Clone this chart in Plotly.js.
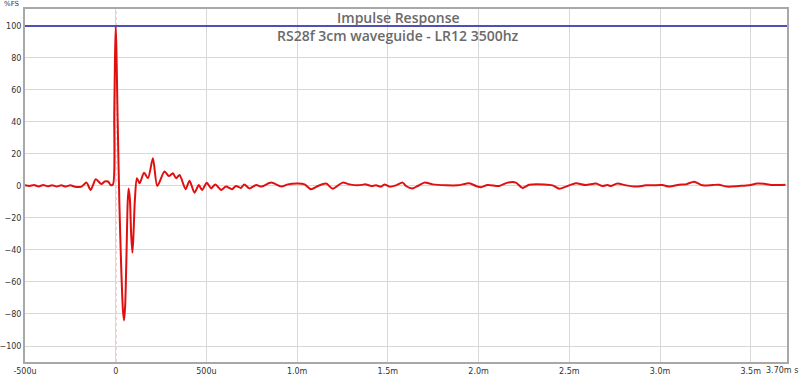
<!DOCTYPE html>
<html>
<head>
<meta charset="utf-8">
<script src="https://cdn.plot.ly/plotly-3.0.1.min.js"></script>
<style>html,body{margin:0;padding:0;background:#fff;}#chart{width:800px;height:376px;}</style>
</head>
<body>
<div id="chart"></div>
<script>
// time in microseconds
const timeUs = [-500,-475,-450,-425,-400,-375,-350,-325,-300,-275,-250,-225,-189,-161,-138,-110,-79,-61,-42,-28,-15,-8,-4,0,4,10,20,30,40,46,52,60,66,71,78,85,92,98,106,117,132,156,178,205,229,269,293,315,333,352,385,407,434,458,476,502,526,549,581,608,641,663,690,709,736,775,802,857,912,949,1004,1041,1077,1114,1160,1196,1251,1288,1334,1380,1408,1435,1463,1481,1509,1545,1582,1600,1637,1664,1701,1747,1821,1885,1949,1986,2013,2050,2114,2160,2206,2242,2279,2362,2408,2445,2481,2536,2591,2647,2683,2710,2729,2765,2812,2867,2922,2958,3013,3050,3105,3142,3188,3234,3289,3324,3371,3436,3491,3536,3582,3619,3692];
// level in %FS
const levelFS = [0.5,0,0.6,-0.3,0.6,-0.2,0.5,-0.3,0.4,-0.4,0.5,-0.5,-0.4,2.1,-2.5,4.2,1.2,2.8,2.8,0.6,1,45,80,100,85,45,-10,-50,-78,-84,-75,-40,-10,-1.5,-8,-30,-41.7,-30,-8,4.8,1.7,8.3,4.8,17.3,0,9,6.2,7.9,4.8,6.9,-2,3.3,-4.2,0.6,-2.5,2,-1.5,1,-2.5,-0.4,-2,0,-1.2,1,-1.5,0.6,-0.4,2.1,-0.4,1.0,1.5,1.0,-2.1,0,1.5,-1.7,2.1,1.0,0.4,1.0,0,0.4,-0.4,1.0,-0.4,0.4,2.1,0,-1.5,0,2.1,1.0,0.4,0.4,1.7,0,-0.8,0.6,0,2.1,2.1,-1.25,0.8,1.0,0.4,-1.7,-0.4,1.7,0.6,1.5,0,0.6,0,1.5,0.4,-0.4,0.4,0.4,0.6,-0.4,0.8,1.0,2.7,0.4,0.6,0.8,-0.4,0,0.4,1.5,1.3,0.6,0.8];

const xTickVals = [-500,0,500,1000,1500,2000,2500,3000,3500];
const xTickText = ["-500u","0","500u","1.0m","1.5m","2.0m","2.5m","3.0m","3.5m"];
const xEndLabel = "3.70m";
const xUnit = "s";
const yTickVals = [-100,-80,-60,-40,-20,0,20,40,60,80,100];
const refLevel = 100;
const impulseTime = 0;

const titleText = "Impulse Response";
const subtitleText = "RS28f 3cm waveguide - LR12 3500hz";

const traces = [{
  x: timeUs, y: levelFS, type: 'scatter', mode: 'lines',
  line: {color: '#e01010', width: 2, shape: 'spline', smoothing: 0.7},
  hoverinfo: 'skip'
}];

const tickFont = {family: 'DejaVu Sans, Verdana, sans-serif', size: 8, color: '#333'};
const titleFont = {family: 'Open Sans, DejaVu Sans, sans-serif', size: 14, color: '#6a6a6a', weight: 600};
const layout = {
  width: 800, height: 376,
  margin: {l: 25, r: 13, t: 9, b: 14},
  paper_bgcolor: '#fff', plot_bgcolor: '#fff',
  showlegend: false,
  xaxis: {
    range: [-500, 3700], tickvals: xTickVals, ticktext: xTickText,
    showgrid: true, gridcolor: '#d8d8d8', gridwidth: 1, zeroline: false,
    showline: true, linecolor: '#a8a8a8', linewidth: 2, mirror: true,
    ticks: '', tickfont: tickFont
  },
  yaxis: {
    range: [-110, 110.6], tickvals: yTickVals,
    showgrid: true, gridcolor: '#d8d8d8', gridwidth: 1, zeroline: false,
    showline: true, linecolor: '#a8a8a8', linewidth: 2, mirror: true,
    ticks: '', tickfont: tickFont
  },
  shapes: [
    {type: 'line', xref: 'paper', x0: 0, x1: 1, yref: 'y', y0: refLevel, y1: refLevel,
     line: {color: '#5050b4', width: 2}},
    {type: 'line', xref: 'x', x0: impulseTime, x1: impulseTime, yref: 'paper', y0: 0, y1: 1,
     line: {color: '#d02020', width: 1, dash: 'dot'}, layer: 'below'}
  ],
  annotations: [
    {text: titleText, xref: 'paper', yref: 'paper', x: 0.49, y: 0.975, xanchor: 'center', yanchor: 'middle',
     showarrow: false, font: titleFont},
    {text: subtitleText, xref: 'paper', yref: 'paper', x: 0.49, y: 0.924, xanchor: 'center', yanchor: 'middle',
     showarrow: false, font: titleFont},
    {text: '%FS', xref: 'paper', yref: 'paper', x: -0.017, y: 1.014, xanchor: 'center', yanchor: 'middle',
     showarrow: false, font: {family: 'DejaVu Sans, Verdana, sans-serif', size: 7, color: '#333'}},
    {text: xEndLabel + ' ' + xUnit, xref: 'paper', yref: 'paper', x: 1.017, y: -0.024, xanchor: 'right', yanchor: 'middle',
     showarrow: false, font: tickFont}
  ]
};

Plotly.newPlot('chart', traces, layout, {displayModeBar: false, staticPlot: true});
</script>
</body>
</html>
